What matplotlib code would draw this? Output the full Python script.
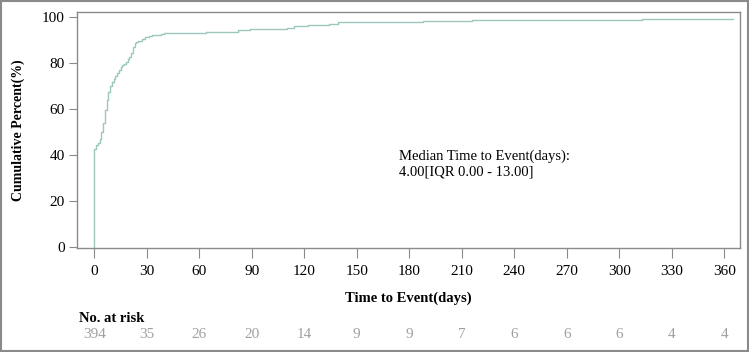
import numpy as np
import matplotlib.pyplot as plt
from matplotlib.patches import Rectangle

plt.rcParams['font.family'] = ['Liberation Serif', 'DejaVu Serif']

# step curve (days, cumulative percent)
days = [0, 0, 1, 2, 3, 4, 5, 6, 7, 8, 9, 10, 11, 12, 13, 14, 15, 16, 17, 18,
        19, 20, 21, 22, 23, 24, 25, 27, 29, 31, 33, 38, 40, 51, 64, 82, 89,
        95, 110, 114, 122, 134, 139, 188, 203, 216, 313, 365]
cum_pct = [0, 42.5, 44.3, 45.4, 47.2, 50.1, 53.8, 59.6, 63.9, 67.5, 70.0,
           71.9, 72.9, 74.3, 75.5, 77.2, 78.1, 79.1, 79.8, 80.6, 81.6, 82.8,
           84.5, 87.1, 88.6, 89.1, 89.7, 90.3, 91.2, 91.7, 92.0, 92.6, 92.9,
           93.2, 93.6, 94.3, 94.8, 94.9, 95.4, 96.1, 96.5, 97.0, 97.8, 98.1,
           98.4, 98.6, 99.0, 99.0]

xticks = list(range(0, 361, 30))
at_risk = [394, 35, 26, 20, 14, 9, 9, 7, 6, 6, 6, 4, 4]
yticks = [0, 20, 40, 60, 80, 100]

fig = plt.figure(figsize=(7.49, 3.52), dpi=100)
ax = fig.add_axes([77/749, 1-248/352, 663/749, 236/352])

ax.step(days, cum_pct, where='post', color='#9cc7bd', lw=1.0)

ax.set_xlim(-9.9, 369)
ax.set_ylim(-0.4, 102.2)
ax.set_xticks(xticks)
ax.set_yticks(yticks)
for s in ax.spines.values():
    s.set_color('#8a8a8a')
    s.set_linewidth(1.0)
ax.tick_params(axis='x', length=7, color='#8a8a8a', labelsize=11, pad=5)
ax.tick_params(axis='y', length=6, color='#8a8a8a', labelsize=11, pad=3)

fig.text(399/749, 1-164/352, 'Median Time to Event(days):\n4.00[IQR 0.00 - 13.00]',
         fontsize=10.5, ha='left', va='center', linespacing=1.2)

fig.text(18/749, 1-130.5/352, 'Cumulative Percent(%)', rotation=90,
         fontsize=10, fontweight='bold', ha='center', va='center')
fig.text(408/749, 1-298/352, 'Time to Event(days)', fontsize=10.5,
         fontweight='bold', ha='center', va='center')
fig.text(79/749, 1-318/352, 'No. at risk', fontsize=10.5,
         fontweight='bold', ha='left', va='center')

# risk table aligned with the x axis
for t, n in zip(xticks, at_risk):
    xf = fig.transFigure.inverted().transform(ax.transData.transform((t, 0)))[0]
    fig.text(xf, 1-334/352, str(n), fontsize=11, color='#a0a0a0',
             ha='center', va='center')

fig.patches.append(Rectangle((0.001, 0.002), 0.997, 0.995, transform=fig.transFigure,
                             fill=False, edgecolor='#8a8a8a', lw=1.5))

fig.savefig('out.png', dpi=100)
